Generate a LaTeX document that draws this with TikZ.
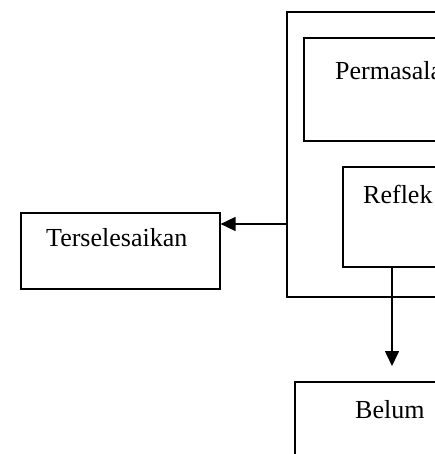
\documentclass[tikz,border=0pt]{standalone}
\usepackage{fontspec}
\setmainfont{Liberation Serif}
\usetikzlibrary{arrows.meta}
\begin{document}
\begin{tikzpicture}[x=1pt,y=-1pt,
  box/.style={draw, line width=1.6pt, rectangle, inner sep=0pt, anchor=north west},
  lbl/.style={inner sep=0pt, anchor=base west, font=\fontsize{26}{30}\selectfont},
  arr/.style={line width=1.6pt, -{Triangle[length=15pt,width=14pt]}}]
\useasboundingbox (0,0) rectangle (435,454);
\clip (0,0) rectangle (435,454);
\fill[white] (0,0) rectangle (435,454);
% boxes
\node[box, minimum width=400pt, minimum height=285pt] (outer) at (286,11) {};
\node[box, minimum width=300pt, minimum height=103pt] (perm) at (303,37) {};
\node[box, minimum width=300pt, minimum height=100pt] (refl) at (342,166) {};
\node[box, minimum width=199pt, minimum height=76pt] (term) at (20,212) {};
\node[box, minimum width=300pt, minimum height=200pt] (belum) at (294,381) {};
% labels
\node[lbl] (tperm) at (335,80) {Permasala};
\node[lbl] (trefl) at (363,203) {Reflek};
\node[lbl] (tterm) at (46,246) {Terselesaikan};
\node[lbl] (tbelum) at (355,418) {Belum};
% connectors
\coordinate (c1) at (286,224);
\draw[arr] (c1) -- (c1 -| term.east);
\coordinate (c2) at (392,266);
\coordinate (c3) at (392,366);
\draw[arr] (c2) -- (c3);
\end{tikzpicture}
\end{document}
